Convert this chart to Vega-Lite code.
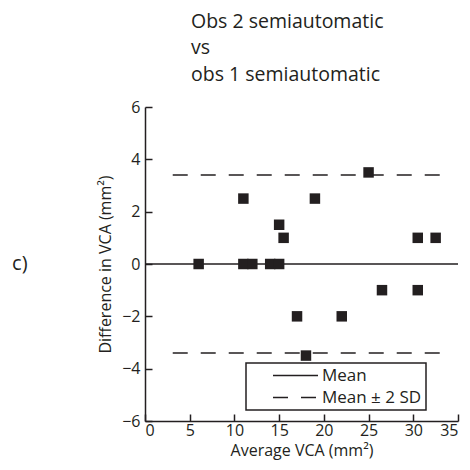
{
  "$schema": "https://vega.github.io/schema/vega-lite/v6.json",
  "autosize": {"type": "none"},
  "width": 313,
  "height": 314,
  "padding": {"left": 145, "top": 107, "right": 12, "bottom": 49},
  "background": "white",
  "config": {
    "font": "Open Sans",
    "view": {"stroke": null},
    "axis": {
      "grid": false,
      "domainColor": "#231f20",
      "domainWidth": 1.5,
      "tickColor": "#231f20",
      "tickWidth": 1.5,
      "tickSize": -7,
      "labelColor": "#231f20",
      "labelFontSize": 16,
      "labelFont": "Open Sans",
      "titleFont": "Open Sans",
      "titleFontSize": 16,
      "titleFontWeight": "normal",
      "titleColor": "#231f20"
    }
  },
  "title": {
    "text": ["Obs 2 semiautomatic", "vs", "obs 1 semiautomatic"],
    "anchor": "start",
    "frame": "group",
    "dx": 46,
    "offset": 14,
    "fontSize": 19.5,
    "fontWeight": "normal",
    "font": "Open Sans",
    "color": "#231f20",
    "lineHeight": 26.5
  },
  "datasets": {
    "points": [
      {"avg": 6, "diff": 0},
      {"avg": 11, "diff": 2.5},
      {"avg": 11, "diff": 0},
      {"avg": 12, "diff": 0},
      {"avg": 14, "diff": 0},
      {"avg": 15, "diff": 0},
      {"avg": 15, "diff": 1.5},
      {"avg": 15.5, "diff": 1},
      {"avg": 17, "diff": -2},
      {"avg": 18, "diff": -3.5},
      {"avg": 19, "diff": 2.5},
      {"avg": 22, "diff": -2},
      {"avg": 25, "diff": 3.5},
      {"avg": 26.5, "diff": -1},
      {"avg": 30.5, "diff": 1},
      {"avg": 30.5, "diff": -1},
      {"avg": 32.5, "diff": 1}
    ],
    "lines": [
      {"type": "Mean", "y": 0, "x1": 0, "x2": 35},
      {"type": "Mean ± 2 SD", "y": 3.4, "x1": 3.1, "x2": 34},
      {"type": "Mean ± 2 SD", "y": -3.4, "x1": 3.1, "x2": 34}
    ],
    "panel": [
      {"label": "c)", "x": -14, "y": 0}
    ]
  },
  "layer": [
    {
      "data": {"name": "lines"},
      "mark": {"type": "rule", "color": "#231f20", "strokeWidth": 1.5},
      "encoding": {
        "x": {"field": "x1", "type": "quantitative", "scale": {"domain": [0, 35], "nice": false, "zero": false},
          "axis": {"values": [0, 5, 10, 15, 20, 25, 30, 35], "title": "Average VCA (mm²)", "labelPadding": 8, "titlePadding": 4}},
        "x2": {"field": "x2"},
        "y": {"field": "y", "type": "quantitative", "scale": {"domain": [-6, 6], "nice": false},
          "axis": {"values": [-6, -4, -2, 0, 2, 4, 6], "title": "Difference in VCA (mm²)", "labelPadding": 12, "titlePadding": 8}},
        "strokeDash": {
          "field": "type", "type": "nominal",
          "scale": {"domain": ["Mean", "Mean ± 2 SD"], "range": [[1, 0], [15, 13]]},
          "legend": {
            "title": null,
            "orient": "none",
            "legendX": 101,
            "legendY": 256,
            "strokeColor": "#231f20",
            "fillColor": "white",
            "padding": 4,
            "symbolType": "M-3,0H3",
            "symbolSize": 225,
            "symbolOffset": 37,
            "symbolStrokeWidth": 1.5,
            "symbolStrokeColor": "#231f20",
            "labelFontSize": 17,
            "labelOffset": 18,
            "labelColor": "#231f20",
            "labelFont": "Open Sans",
            "rowPadding": 4,
            "encode": {"legend": {"update": {"strokeWidth": {"value": 1.5}}}}
          }
        }
      }
    },
    {
      "data": {"name": "points"},
      "mark": {"type": "point", "shape": "square", "filled": true, "size": 110, "color": "#231f20", "opacity": 1},
      "encoding": {
        "x": {"field": "avg", "type": "quantitative"},
        "y": {"field": "diff", "type": "quantitative"}
      }
    },
    {
      "data": {"name": "panel"},
      "mark": {"type": "text", "fontSize": 20, "font": "Open Sans", "color": "#231f20"},
      "encoding": {
        "x": {"field": "x", "type": "quantitative"},
        "y": {"field": "y", "type": "quantitative"},
        "text": {"field": "label"}
      }
    }
  ]
}
